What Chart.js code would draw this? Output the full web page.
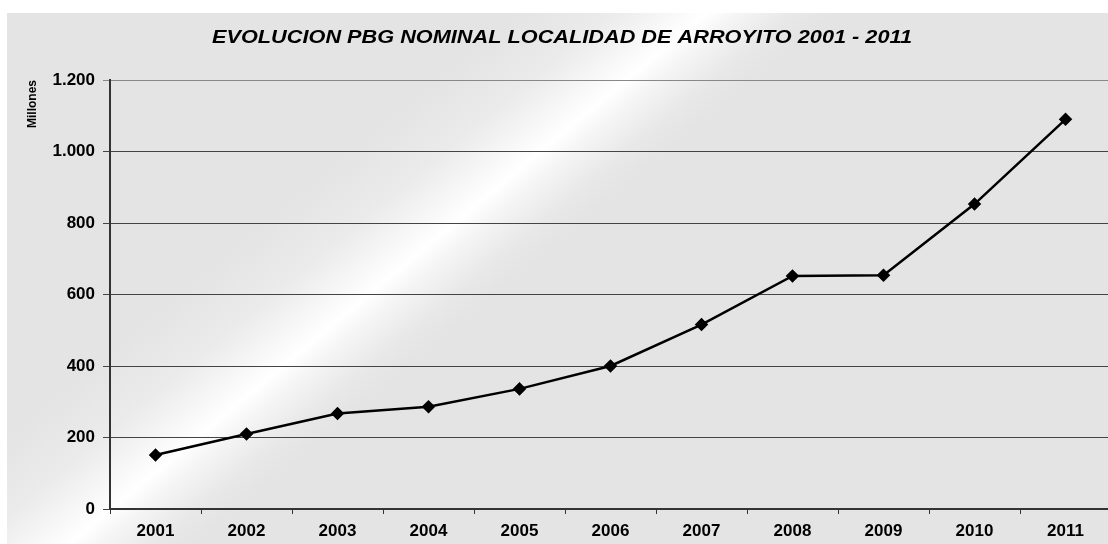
<!DOCTYPE html>
<html>
<head>
<meta charset="utf-8">
<script src="https://cdn.jsdelivr.net/npm/chart.js@4.4.0/dist/chart.umd.min.js"></script>
<style>
  html, body { margin: 0; padding: 0; background: #ffffff; overflow: hidden; }
  #wrap { position: relative; width: 1112px; height: 544px; }
</style>
</head>
<body>
<div id="wrap"><canvas id="c" width="1112" height="544"></canvas></div>
<script>
const categories = ['2001', '2002', '2003', '2004', '2005', '2006', '2007', '2008', '2009', '2010', '2011'];
const pbgValues = [151, 210, 267, 286, 336, 400, 516, 652, 654, 853, 1090];
const yTickValues = [0, 200, 400, 600, 800, 1000, 1200];
const chartTitle = 'EVOLUCION PBG NOMINAL LOCALIDAD DE ARROYITO 2001 - 2011';
const yAxisTitle = 'Millones';

function fmt(v) {
  const s = String(Math.round(v));
  return s.replace(/\B(?=(\d{3})+(?!\d))/g, '.');
}

const bgPlugin = {
  id: 'bg',
  beforeDraw(chart) {
    const ctx = chart.ctx;
    const W = chart.width, H = chart.height;
    ctx.save();
    ctx.fillStyle = '#ffffff';
    ctx.fillRect(0, 0, W, H);
    const cx = 440, cy = 235, nx = 0.640, ny = 0.768, d = 500;
    const g = ctx.createLinearGradient(cx - d * nx, cy - d * ny, cx + d * nx, cy + d * ny);
    g.addColorStop(0, '#e4e4e4');
    g.addColorStop(0.38, '#e4e4e4');
    g.addColorStop(0.44, '#ebebeb');
    g.addColorStop(0.48, '#f8f8f8');
    g.addColorStop(0.5, '#ffffff');
    g.addColorStop(0.52, '#f5f5f5');
    g.addColorStop(0.555, '#e8e8e8');
    g.addColorStop(0.58, '#e4e4e4');
    g.addColorStop(1, '#e4e4e4');
    ctx.fillStyle = g;
    ctx.fillRect(7, 13, W - 7, H - 13);
    ctx.restore();
  },
  afterDraw(chart) {
    const ctx = chart.ctx;
    ctx.save();
    ctx.fillStyle = '#000000';
    ctx.font = 'italic bold 18px "Liberation Sans", Arial, sans-serif';
    ctx.textAlign = 'center';
    ctx.textBaseline = 'middle';
    const w = ctx.measureText(chartTitle).width;
    const targetW = 700;
    ctx.translate(562, 38);
    ctx.scale(targetW / w, 1);
    ctx.fillText(chartTitle, 0, 0);
    ctx.restore();
  }
};

new Chart(document.getElementById('c'), {
  type: 'line',
  data: {
    labels: categories,
    datasets: [{
      data: pbgValues,
      borderColor: '#000000',
      backgroundColor: '#000000',
      borderWidth: 2.5,
      pointStyle: 'rectRot',
      pointRadius: 5,
      pointHoverRadius: 5,
      tension: 0,
      fill: false
    }]
  },
  options: {
    responsive: false,
    animation: false,
    events: [],
    layout: { autoPadding: false, padding: { left: 7, top: 80, right: 1, bottom: 0 } },
    plugins: { legend: { display: false }, tooltip: { enabled: false }, title: { display: false } },
    scales: {
      x: {
        type: 'category',
        offset: true,
        grid: { display: true, drawOnChartArea: false, drawTicks: true, tickLength: 5, offset: true, color: '#333333' },
        border: { display: true, color: '#333333', width: 2 },
        ticks: { color: '#000000', font: { family: '"Liberation Sans", Arial, sans-serif', size: 17, weight: 'bold' }, padding: 7, maxRotation: 0, autoSkip: false },
        afterFit(s) { s.height = 35; }
      },
      y: {
        min: 0, max: 1200,
        afterBuildTicks(s) { s.ticks = yTickValues.map(v => ({ value: v })); },
        grid: { display: true, drawTicks: true, tickLength: 7, color: (c) => c.tick && c.tick.value === 1200 ? '#888888' : '#444444', lineWidth: 1 },
        border: { display: true, color: '#333333', width: 2 },
        ticks: { color: '#000000', font: { family: '"Liberation Sans", Arial, sans-serif', size: 17, weight: 'bold' }, padding: 8, callback: (v) => fmt(v) },
        title: { display: true, text: yAxisTitle, align: 'end', color: '#000000', font: { family: '"Liberation Sans", Arial, sans-serif', size: 12, weight: 'bold' }, padding: { top: 18, bottom: 0 } },
        afterFit(s) { s.width = 103; }
      }
    }
  },
  plugins: [bgPlugin]
});
</script>
</body>
</html>
